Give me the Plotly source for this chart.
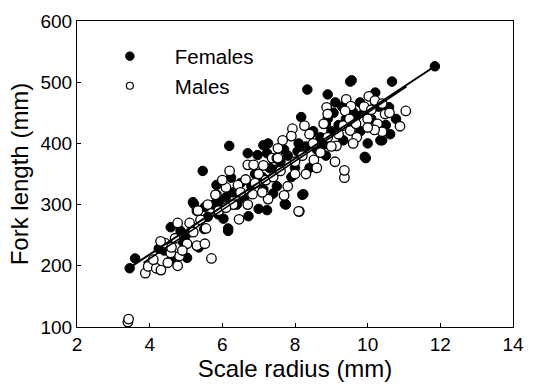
import plotly.graph_objects as go

# Females (filled circles)
fem_x = [3.45, 3.6, 4.25, 4.58, 4.85, 5.03, 5.17, 5.35, 5.22, 5.19, 5.46, 5.52, 5.76, 5.89, 6.03,
         6.16, 6.16, 6.19, 5.84, 6.24, 6.7, 6.97, 7.13, 7.45, 7.72, 7.75, 7.13, 7.0, 6.72, 7.23,
         8.2, 8.23, 8.34, 8.9, 9.11, 9.52, 9.56, 9.79, 10.21, 10.67, 11.85, 9.06, 9.6, 8.85, 8.17,
         8.44, 7.26, 10.35, 9.92, 9.95, 9.33, 8.85, 8.07, 7.23, 10.78, 10.62, 10.4, 10.59, 4.9, 5.5,
         5.9, 6.3, 6.5, 6.6, 6.9, 7.1, 7.3, 7.6, 7.8, 8.0, 8.1, 8.3, 8.5, 8.6, 8.7,
         8.9, 9.0, 9.2, 9.4, 9.5, 9.7, 9.9, 10.1, 10.3, 10.5, 6.4, 6.8, 7.5, 7.9, 8.4,
         5.6, 5.0, 4.4, 7.4, 8.8, 9.8, 10.0, 6.1, 7.7, 9.3, 4.6]
fem_y = [196, 212, 228, 263, 257, 213, 257, 230, 301, 304, 355, 296, 300, 284, 277,
         261, 257, 396, 332, 344, 384, 381, 397, 357, 301, 300, 325, 293, 281, 291,
         316, 317, 488, 480, 467, 501, 503, 467, 483, 501, 526, 450, 451, 432, 443,
         416, 400, 405, 378, 376, 405, 380, 387, 384, 440, 415, 405, 459, 240, 260,
         305, 320, 335, 310, 350, 345, 360, 370, 380, 360, 400, 395, 420, 390, 410,
         440, 420, 430, 440, 425, 445, 450, 440, 460, 430, 300, 330, 330, 345, 360,
         280, 250, 225, 318, 398, 420, 400, 312, 390, 460, 210]

# Males (open circles)
male_x = [3.4, 3.42, 3.88, 3.96, 4.18, 4.31, 4.5, 4.77, 4.82, 4.58, 5.7, 5.03, 5.3, 5.52, 4.42,
          4.77, 5.55, 5.3, 5.84, 5.33, 5.81, 6.1, 6.43, 6.64, 6.7, 6.86, 7.13, 7.37, 7.5, 7.66,
          7.26, 6.83, 6.46, 8.12, 8.1, 9.36, 9.36, 9.41, 9.54, 10.03, 8.87, 8.9, 9.38, 9.33, 8.26,
          7.93, 7.9, 7.53, 8.79, 9.52, 9.68, 10.0, 10.27, 9.14, 8.52, 7.53, 11.05, 10.89, 10.4, 10.19,
          10.0, 10.48, 4.1, 4.3, 4.6, 4.9, 5.1, 5.4, 5.6, 5.9, 6.0, 6.2, 6.3, 6.5, 6.7,
          6.9, 7.0, 7.2, 7.4, 7.6, 7.8, 8.0, 8.2, 8.3, 8.5, 8.6, 8.7, 8.9, 9.0, 9.2,
          9.5, 9.7, 9.9, 10.1, 10.2, 10.6, 8.4, 7.7, 6.1, 5.2, 4.7, 9.1, 9.6, 10.4, 8.0, 7.1]
male_y = [108, 113, 188, 199, 196, 193, 205, 200, 216, 221, 212, 236, 233, 236, 237,
          270, 261, 290, 316, 290, 316, 328, 332, 341, 365, 365, 364, 376, 376, 405,
          309, 317, 276, 289, 289, 344, 356, 472, 461, 477, 459, 448, 453, 429, 429,
          424, 412, 392, 432, 421, 432, 440, 432, 396, 373, 376, 453, 428, 419, 422,
          426, 448, 210, 240, 230, 225, 270, 275, 300, 290, 340, 355, 300, 320, 300,
          335, 350, 340, 345, 355, 330, 370, 380, 350, 400, 360, 385, 410, 395, 415,
          440, 410, 460, 455, 470, 450, 415, 315, 295, 255, 245, 370, 400, 465, 350, 320]

# Regression lines (end points)
fem_line_x = [3.45, 11.85]
fem_line_y = [197, 526]
male_line_x = [3.83, 11.07]
male_line_y = [205, 493]

x_ticks = [2, 4, 6, 8, 10, 12, 14]
y_ticks = [100, 200, 300, 400, 500, 600]

FONT = "Liberation Sans, Arial, sans-serif"

fig = go.Figure()
fig.add_trace(go.Scatter(x=fem_x, y=fem_y, mode="markers", showlegend=False,
                         marker=dict(size=9.5, color="black", line=dict(color="black", width=1))))
fig.add_trace(go.Scatter(x=male_x, y=male_y, mode="markers", showlegend=False,
                         marker=dict(size=9.5, color="white", line=dict(color="black", width=1.3))))
fig.add_trace(go.Scatter(x=fem_line_x, y=fem_line_y, mode="lines", showlegend=False,
                         line=dict(color="black", width=2)))
fig.add_trace(go.Scatter(x=male_line_x, y=male_line_y, mode="lines", showlegend=False,
                         line=dict(color="black", width=1.6)))
# legend entries
fig.add_trace(go.Scatter(x=[None], y=[None], mode="markers", name="Females", legendgroup="f",
                         marker=dict(size=8.5, color="black", line=dict(color="black", width=1))))
fig.add_trace(go.Scatter(x=[None], y=[None], mode="markers", name="Males", legendgroup="m",
                         marker=dict(size=7, color="white", line=dict(color="black", width=1.2))))

axis_common = dict(showline=True, linecolor="black", linewidth=1.2, mirror=True,
                   ticks="inside", ticklen=4, tickcolor="black", showgrid=False, zeroline=False,
                   tickfont=dict(family=FONT, size=19, color="black"))
fig.update_layout(
    width=535, height=385,
    margin=dict(l=77, r=11, t=15, b=57),
    paper_bgcolor="white", plot_bgcolor="white",
    xaxis=dict(range=[2, 14], tickvals=x_ticks,
               title=dict(text="Scale radius (mm)", font=dict(family=FONT, size=24, color="black"), standoff=2),
               **axis_common),
    yaxis=dict(range=[100, 600], tickvals=y_ticks,
               title=dict(text="Fork length (mm)", font=dict(family=FONT, size=24, color="black"), standoff=4),
               **axis_common),
    legend=dict(x=0.018, y=0.95, xanchor="left", yanchor="top", itemwidth=80,
                tracegroupgap=0, bgcolor="rgba(0,0,0,0)",
                font=dict(family=FONT, size=20.5, color="black")),
)
fig.write_html("out.html")
